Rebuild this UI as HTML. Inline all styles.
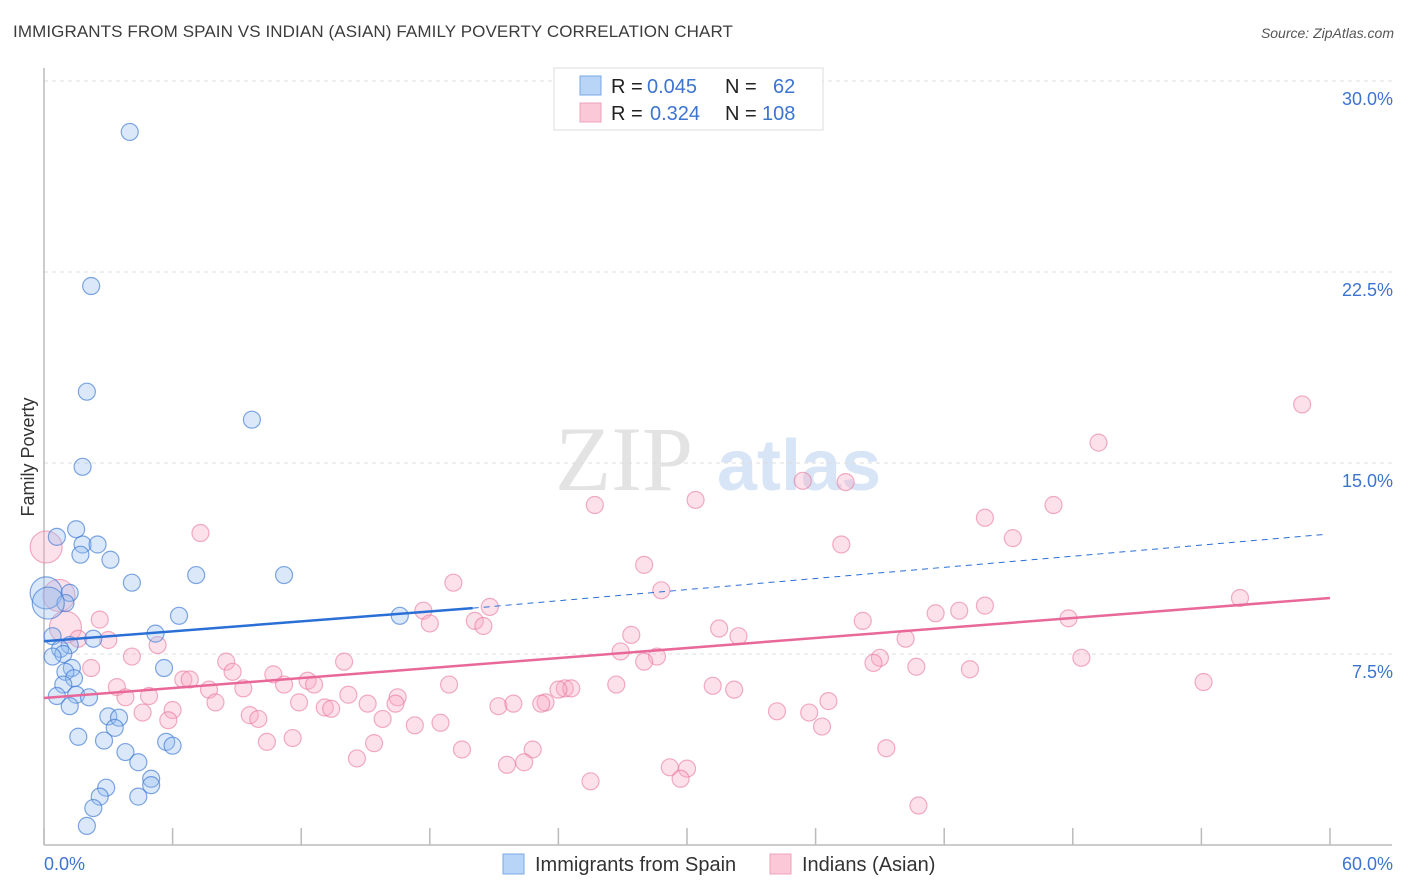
<!DOCTYPE html>
<html><head><meta charset="utf-8">
<style>
body{margin:0;background:#fff;font-family:"Liberation Sans",sans-serif;}
#wrap{position:relative;width:1406px;height:892px;}
.title{position:absolute;left:13px;top:22px;font-size:17px;color:#3c3c3c;letter-spacing:0.1px}
.src{position:absolute;right:12px;top:25px;font-size:14px;color:#555;font-style:italic}
</style></head><body>
<div id="wrap">
<div class="title">IMMIGRANTS FROM SPAIN VS INDIAN (ASIAN) FAMILY POVERTY CORRELATION CHART</div>
<div class="src">Source: ZipAtlas.com</div>
<svg id="svg" width="1406" height="892" style="position:absolute;left:0;top:0"></svg>
</div>
<script>
const xTicks=[0,6,12,18,24,30,36,42,48,54,60];
const yTicks=[7.5,15,22.5,30];
const blueX=[4.0,2.2,2.0,9.7,1.8,1.5,0.6,1.8,2.5,1.7,3.1,7.1,11.2,4.1,0.1,1.2,1.0,0.2,6.3,16.6,5.2,0.4,2.3,1.2,0.75,0.9,0.4,5.6,1.3,1.0,1.4,0.9,1.5,0.6,2.1,1.2,3.0,3.5,3.3,1.6,2.8,5.7,6.0,3.8,4.4,5.0,5.0,2.9,2.6,4.4,2.3,2.0];
const blueY=[28.0,21.95,17.8,16.7,14.85,12.4,12.1,11.8,11.8,11.4,11.2,10.6,10.6,10.3,9.9,9.9,9.5,9.5,9.0,9.0,8.3,8.2,8.1,7.85,7.7,7.5,7.4,6.95,6.95,6.8,6.55,6.3,5.9,5.85,5.8,5.45,5.05,5.0,4.6,4.25,4.1,4.05,3.9,3.65,3.25,2.6,2.35,2.25,1.9,1.9,1.45,0.75];
const blueBig=[14,17];
const pinkX=[58.7,49.2,35.4,37.4,47.1,30.4,25.7,43.9,7.3,45.2,37.2,0.1,28.0,19.1,28.8,55.8,0.7,43.9,20.8,17.7,42.7,41.6,2.6,20.1,20.5,18.0,47.8,38.2,1.0,31.5,27.4,32.4,40.2,1.6,3.0,5.3,26.9,28.6,4.1,39.0,48.4,14.0,38.7,28.0,8.5,40.7,43.2,2.2,8.8,10.7,6.5,6.8,12.3,12.6,54.1,11.2,18.9,26.7,3.4,31.2,9.3,32.2,7.7,24.3,24.6,24.0,4.9,3.8,14.2,16.5,8.0,36.6,11.9,15.1,16.4,23.4,23.2,6.0,13.1,13.4,21.2,21.9,34.2,35.7,4.6,9.6,10.0,5.8,15.8,18.5,17.3,36.3,11.6,10.4,15.4,19.5,22.8,39.3,14.6,22.4,21.6,29.2,30.0,29.7,25.5,40.8];
const pinkY=[17.3,15.8,14.3,14.25,13.35,13.55,13.35,12.85,12.25,12.05,11.8,11.7,11.0,10.3,10.0,9.7,9.8,9.4,9.35,9.2,9.2,9.1,8.85,8.8,8.6,8.7,8.9,8.8,8.55,8.5,8.25,8.2,8.1,8.1,8.05,7.85,7.6,7.4,7.4,7.35,7.35,7.2,7.15,7.2,7.2,7.0,6.9,6.95,6.8,6.7,6.5,6.5,6.45,6.3,6.4,6.3,6.3,6.3,6.2,6.25,6.15,6.1,6.1,6.15,6.15,6.1,5.85,5.8,5.9,5.8,5.6,5.65,5.6,5.55,5.55,5.6,5.55,5.3,5.4,5.35,5.45,5.55,5.25,5.2,5.2,5.1,4.95,4.9,4.95,4.8,4.7,4.65,4.2,4.05,4.0,3.75,3.75,3.8,3.4,3.25,3.15,3.05,3.0,2.6,2.5,1.55];
const pinkBig=[11,16,28];
const blueTrend=[[0,8.0],[20,9.3]];
const blueDash=[[20,9.3],[59.8,12.2]];
const pinkTrend=[[0,5.77],[60,9.7]];

const X=v=>44+v/60*1286, Y=v=>845-v/7.5*191;
const svg=document.getElementById('svg'), NS='http://www.w3.org/2000/svg';
function mk(t,a,p){const e=document.createElementNS(NS,t);for(const k in a)e.setAttribute(k,a[k]);(p||svg).appendChild(e);return e;}
let wm=mk('text',{x:555,y:490,'font-size':92,'font-family':'Liberation Serif,serif',fill:'#e3e3e3'});wm.textContent='ZIP';

let wm2=mk('text',{x:717,y:490,'font-size':72,'font-family':'Liberation Sans,sans-serif','font-weight':'bold',fill:'#d8e5f6'});wm2.textContent='atlas';

yTicks.forEach(t=>{const l=mk('line',{x1:44,x2:1392,y1:Y(t),y2:Y(t),stroke:'#ddd','stroke-dasharray':'4,4'});

const tx=mk('text',{x:1393,y:Y(t)+24,'text-anchor':'end','font-size':18,fill:'#3d74d0'});tx.textContent=t.toFixed(1)+'%';
});
mk('line',{x1:44,x2:44,y1:68,y2:845,stroke:'#bbb','stroke-width':1.5});
mk('line',{x1:44,x2:1392,y1:845,y2:845,stroke:'#bbb','stroke-width':1.5});
xTicks.forEach(t=>{const x=X(t);const l=mk('line',{x1:x,x2:x,y1:828,y2:845,stroke:'#bbb','stroke-width':1.5});
});
let a=mk('text',{x:44,y:870,'font-size':18,fill:'#3d74d0'});a.textContent='0.0%';
a=mk('text',{x:1393,y:870,'text-anchor':'end','font-size':18,fill:'#3d74d0'});a.textContent='60.0%';
a=mk('text',{x:34,y:457,'text-anchor':'middle','font-size':18,fill:'#333',transform:'rotate(-90 34 457)'});a.textContent='Family Poverty';

pinkX.forEach((v,i)=>{const c=mk('circle',{cx:X(v),cy:Y(pinkY[i]),r:pinkBig.includes(i)?16:8.5,fill:'rgba(248,170,195,0.35)',stroke:'rgba(232,120,160,0.6)','stroke-width':1.2});
});
blueX.forEach((v,i)=>{const c=mk('circle',{cx:X(v),cy:Y(blueY[i]),r:blueBig.includes(i)?16:8.5,fill:'rgba(150,190,240,0.35)',stroke:'rgba(60,120,210,0.65)','stroke-width':1.2});
});
let ln=mk('line',{x1:X(pinkTrend[0][0]),y1:Y(pinkTrend[0][1]),x2:X(pinkTrend[1][0]),y2:Y(pinkTrend[1][1]),stroke:'#e8689a','stroke-width':2.5});

ln=mk('line',{x1:X(blueTrend[0][0]),y1:Y(blueTrend[0][1]),x2:X(blueTrend[1][0]),y2:Y(blueTrend[1][1]),stroke:'#2a6fd6','stroke-width':2.5});

ln=mk('line',{x1:X(blueDash[0][0]),y1:Y(blueDash[0][1]),x2:X(blueDash[1][0]),y2:Y(blueDash[1][1]),stroke:'#2a6fd6','stroke-width':1,'stroke-dasharray':'6,5'});

let g=mk('g',{});
mk('rect',{x:554,y:68,width:269,height:62,fill:'#fff',stroke:'#ddd'},g);
mk('rect',{x:580,y:76,width:21,height:19,fill:'#b8d4f7',stroke:'#7aa8e6'},g);
mk('rect',{x:580,y:103,width:21,height:19,fill:'#fbc8d8',stroke:'#eea0ba'},g);
function t(x,y,s,c,p){const e=mk('text',{x:x,y:y,'font-size':20,fill:c},p);e.textContent=s;return e;}
t(611,93,'R =','#222',g);t(647,93,'0.045','#3d74d0',g);t(725,93,'N =','#222',g);t(773,93,'62','#3d74d0',g);
t(611,120,'R =','#222',g);t(650,120,'0.324','#3d74d0',g);t(725,120,'N =','#222',g);t(762,120,'108','#3d74d0',g);
g=mk('g',{});
mk('rect',{x:503,y:854,width:21,height:20,fill:'#b8d4f7',stroke:'#7aa8e6'},g);t(535,871,'Immigrants from Spain','#333',g);
g=mk('g',{});
mk('rect',{x:770,y:854,width:21,height:20,fill:'#fbc8d8',stroke:'#eea0ba'},g);t(802,871,'Indians (Asian)','#333',g);
</script>
</body></html>
